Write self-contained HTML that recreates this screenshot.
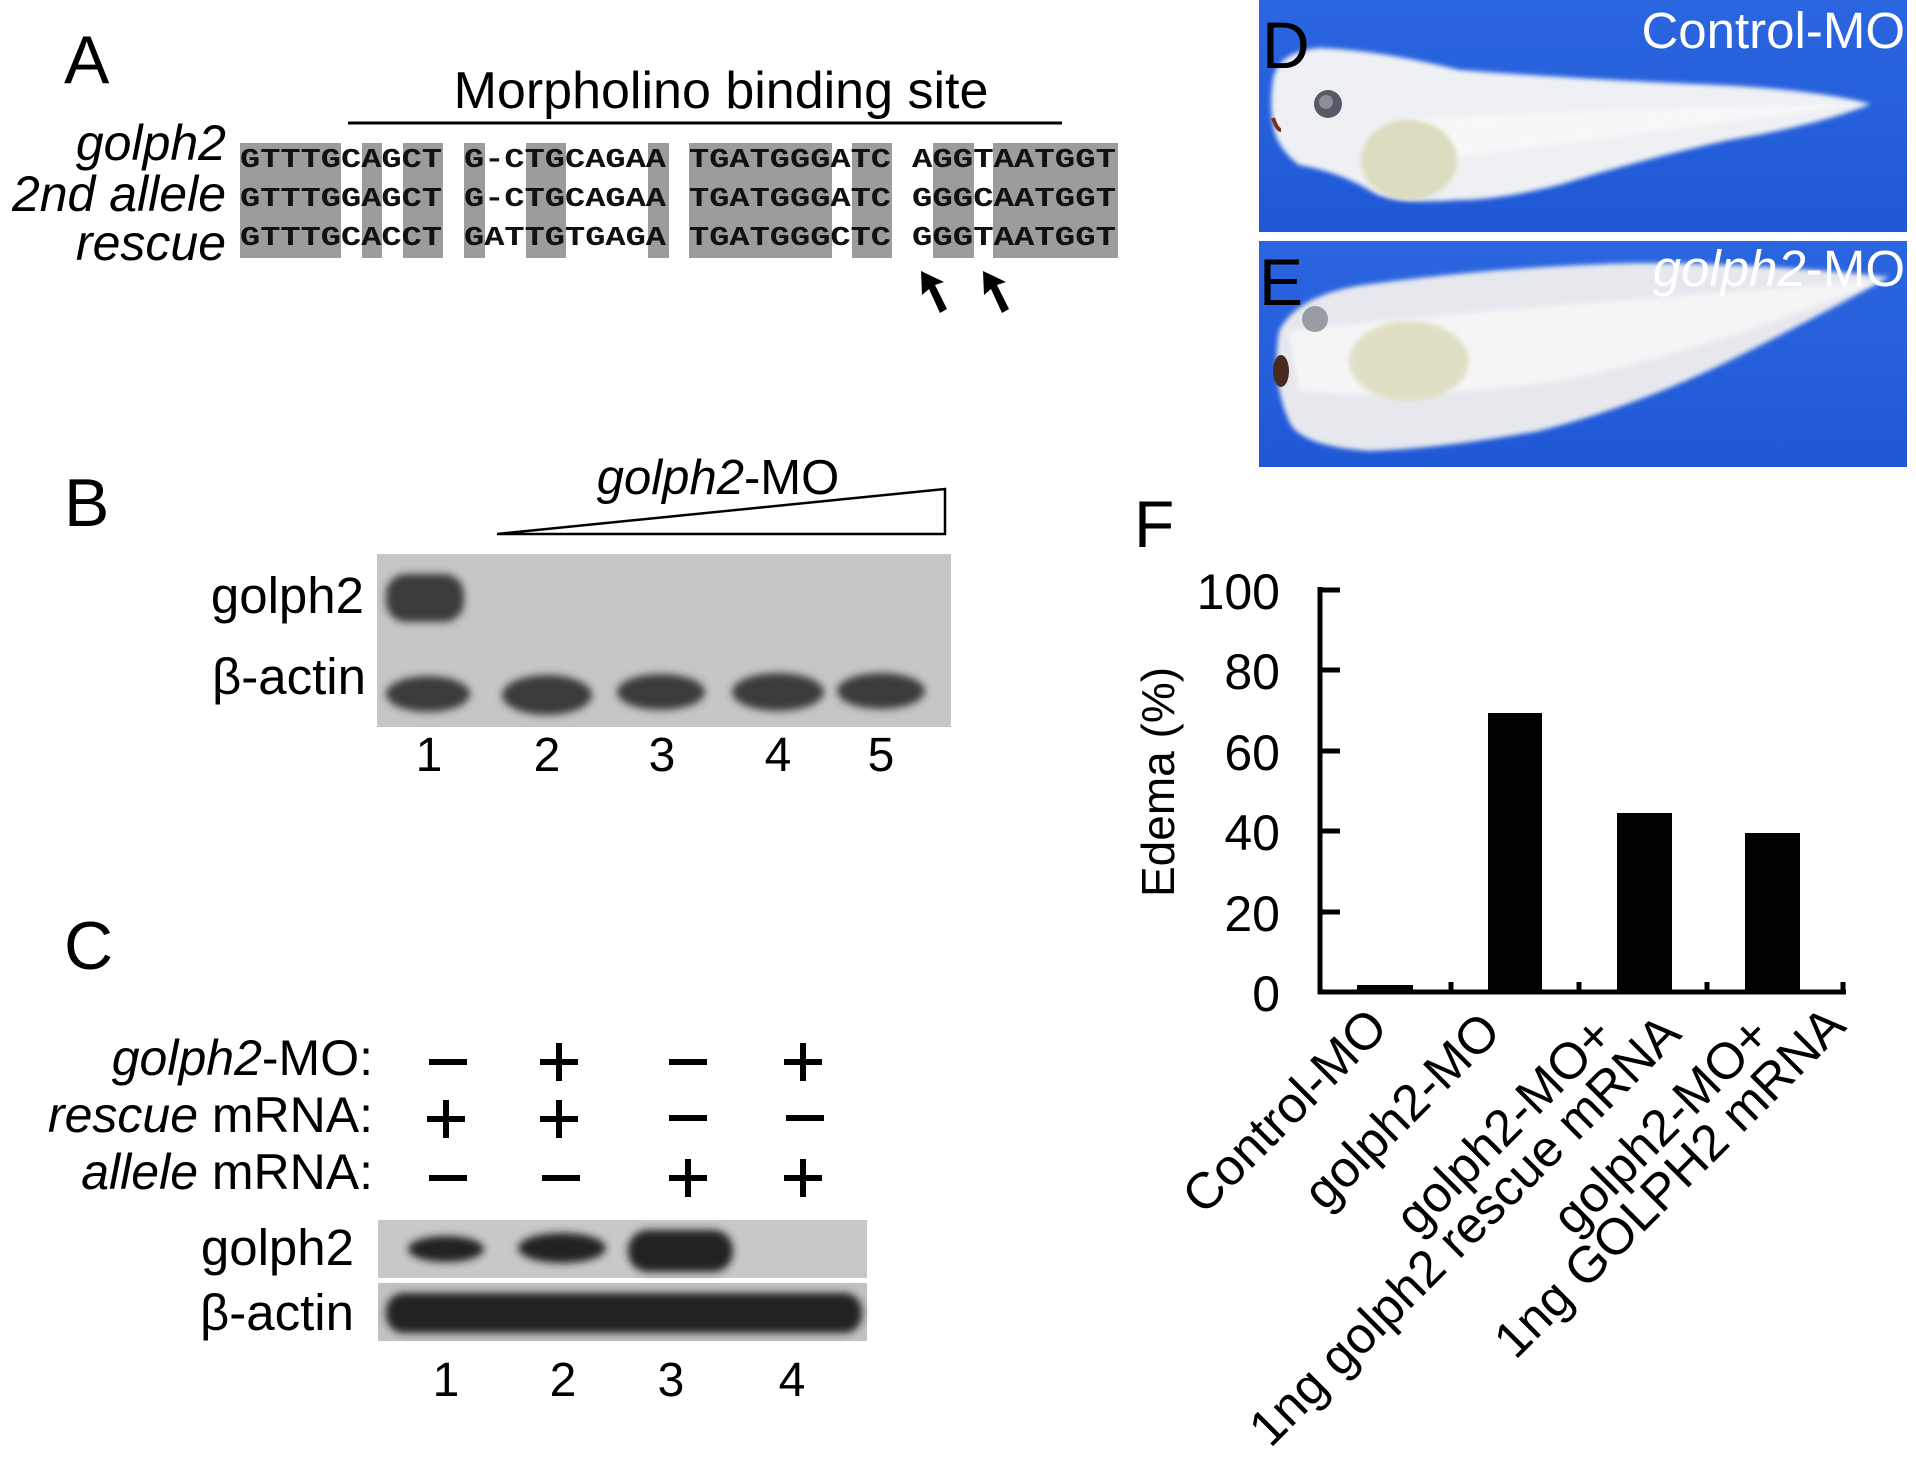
<!DOCTYPE html>
<html><head><meta charset="utf-8"><style>
html,body{margin:0;padding:0;background:#fff;}
svg{display:block;}
text{font-family:"Liberation Sans",sans-serif;}
text.seq{font-family:"Liberation Mono",monospace;font-weight:bold;font-size:27px;fill:#111;}
</style></head><body>
<svg width="1916" height="1468" viewBox="0 0 1916 1468" xmlns="http://www.w3.org/2000/svg">
<defs>
<filter id="b4" x="-30%" y="-60%" width="160%" height="220%"><feGaussianBlur stdDeviation="4"/></filter>
<filter id="b3"><feGaussianBlur stdDeviation="2.5"/></filter>
<linearGradient id="blue" x1="0" y1="0" x2="0" y2="1"><stop offset="0" stop-color="#2b66e0"/><stop offset="1" stop-color="#1f58d6"/></linearGradient>
</defs>
<rect width="1916" height="1468" fill="#fff"/>

<!-- Panel A -->
<text x="64" y="83" font-size="68">A</text>
<text x="721" y="108" font-size="52" text-anchor="middle">Morpholino binding site</text>
<line x1="348" y1="123" x2="1062" y2="123" stroke="#000" stroke-width="3"/>
<g fill="#9c9c9c">
<rect x="240" y="143" width="101" height="115"/>
<rect x="362" y="143" width="20" height="115"/>
<rect x="403" y="143" width="40" height="115"/>
<rect x="464" y="143" width="21" height="115"/>
<rect x="526" y="143" width="40" height="115"/>
<rect x="648" y="143" width="21" height="115"/>
<rect x="689" y="143" width="143" height="115"/>
<rect x="852" y="143" width="40" height="115"/>
<rect x="933" y="143" width="41" height="115"/>
<rect x="993" y="143" width="125" height="115"/>
</g>
<g font-size="50" font-style="italic" text-anchor="end">
<text x="226" y="160">golph2</text>
<text x="226" y="211">2nd allele</text>
<text x="226" y="260">rescue</text>
</g>
<text class="seq" x="240" y="167" textLength="202" lengthAdjust="spacingAndGlyphs">GTTTGCAGCT</text>
<text class="seq" x="464" y="167" textLength="202" lengthAdjust="spacingAndGlyphs">G-CTGCAGAA</text>
<text class="seq" x="689" y="167" textLength="202" lengthAdjust="spacingAndGlyphs">TGATGGGATC</text>
<text class="seq" x="912" y="167" textLength="204" lengthAdjust="spacingAndGlyphs">AGGTAATGGT</text>
<text class="seq" x="240" y="206" textLength="202" lengthAdjust="spacingAndGlyphs">GTTTGGAGCT</text>
<text class="seq" x="464" y="206" textLength="202" lengthAdjust="spacingAndGlyphs">G-CTGCAGAA</text>
<text class="seq" x="689" y="206" textLength="202" lengthAdjust="spacingAndGlyphs">TGATGGGATC</text>
<text class="seq" x="912" y="206" textLength="204" lengthAdjust="spacingAndGlyphs">GGGCAATGGT</text>
<text class="seq" x="240" y="245" textLength="202" lengthAdjust="spacingAndGlyphs">GTTTGCACCT</text>
<text class="seq" x="464" y="245" textLength="202" lengthAdjust="spacingAndGlyphs">GATTGTGAGA</text>
<text class="seq" x="689" y="245" textLength="202" lengthAdjust="spacingAndGlyphs">TGATGGGCTC</text>
<text class="seq" x="912" y="245" textLength="204" lengthAdjust="spacingAndGlyphs">GGGTAATGGT</text>
<g fill="#000">
<path d="M921 271 L944 282 L935 285 L947 309 L940 313 L929 289 L922 295 Z"/>
<path d="M983 271 L1006 282 L997 285 L1009 309 L1002 313 L991 289 L984 295 Z"/>
</g>

<!-- Panel B -->
<text x="64" y="526" font-size="68">B</text>
<text x="718" y="494" font-size="49" text-anchor="middle"><tspan font-style="italic">golph2</tspan>-MO</text>
<path d="M497 534 L945 489 L945 534 Z" fill="none" stroke="#000" stroke-width="2.5"/>
<rect x="377" y="554" width="574" height="173" fill="#c6c6c6"/>
<g fill="#3a3a3a" filter="url(#b4)">
<rect x="386" y="574" width="78" height="48" rx="20"/>
<ellipse cx="428" cy="694" rx="42" ry="18"/>
<ellipse cx="547" cy="695" rx="45" ry="20"/>
<ellipse cx="661" cy="692" rx="44" ry="18"/>
<ellipse cx="778" cy="692" rx="46" ry="19"/>
<ellipse cx="881" cy="691" rx="44" ry="18"/>
</g>
<g font-size="51" text-anchor="end">
<text x="364" y="613">golph2</text>
<text x="366" y="694">β-actin</text>
</g>
<g font-size="48" text-anchor="middle">
<text x="429" y="771">1</text><text x="547" y="771">2</text><text x="662" y="771">3</text><text x="778" y="771">4</text><text x="881" y="771">5</text>
</g>

<!-- Panel C -->
<text x="64" y="969" font-size="68">C</text>
<g font-size="50" text-anchor="end">
<text x="373" y="1075"><tspan font-style="italic">golph2</tspan>-MO:</text>
<text x="373" y="1132"><tspan font-style="italic">rescue</tspan> mRNA:</text>
<text x="373" y="1189"><tspan font-style="italic">allele</tspan> mRNA:</text>
</g>
<g stroke="#000" stroke-width="6">
<line x1="429" y1="1062" x2="467" y2="1062"/>
<line x1="540" y1="1062" x2="578" y2="1062"/><line x1="559" y1="1043" x2="559" y2="1081"/>
<line x1="669" y1="1062" x2="707" y2="1062"/>
<line x1="784" y1="1062" x2="822" y2="1062"/><line x1="803" y1="1043" x2="803" y2="1081"/>
<line x1="427" y1="1119" x2="465" y2="1119"/><line x1="446" y1="1100" x2="446" y2="1138"/>
<line x1="540" y1="1119" x2="578" y2="1119"/><line x1="559" y1="1100" x2="559" y2="1138"/>
<line x1="669" y1="1118" x2="707" y2="1118"/>
<line x1="786" y1="1118" x2="824" y2="1118"/>
<line x1="429" y1="1178" x2="467" y2="1178"/>
<line x1="542" y1="1178" x2="580" y2="1178"/>
<line x1="669" y1="1178" x2="707" y2="1178"/><line x1="688" y1="1159" x2="688" y2="1197"/>
<line x1="784" y1="1178" x2="822" y2="1178"/><line x1="803" y1="1159" x2="803" y2="1197"/>
</g>
<rect x="378" y="1220" width="489" height="58" fill="#c8c8c8"/>
<rect x="378" y="1283" width="489" height="58" fill="#c2c2c2"/>
<g fill="#222" filter="url(#b4)">
<ellipse cx="446" cy="1249" rx="38" ry="13"/>
<ellipse cx="562" cy="1248" rx="44" ry="15"/>
<rect x="628" y="1230" width="105" height="42" rx="20"/>
<rect x="386" y="1293" width="476" height="40" rx="18"/>
</g>
<g font-size="51" text-anchor="end">
<text x="354" y="1265">golph2</text>
<text x="354" y="1330">β-actin</text>
</g>
<g font-size="48" text-anchor="middle">
<text x="446" y="1396">1</text><text x="563" y="1396">2</text><text x="671" y="1396">3</text><text x="792" y="1396">4</text>
</g>

<!-- Panel D -->
<rect x="1259" y="0" width="648" height="232" fill="url(#blue)"/>
<g transform="translate(1259,0)">
<path d="M14 80 Q18 52 60 48 Q120 50 200 70 Q330 80 460 85 Q560 90 612 104 Q560 125 470 140 Q380 160 300 185 Q240 200 200 200 Q130 205 110 190 Q80 172 40 165 Q20 150 15 130 Q10 105 14 80 Z" fill="#eef0f4" filter="url(#b3)"/>
<path d="M150 120 Q330 110 600 104 Q330 140 170 160 Z" fill="#fbfbfb" opacity="0.8" filter="url(#b3)"/>
<ellipse cx="150" cy="160" rx="48" ry="40" fill="#dcdcc0" filter="url(#b3)"/>
<circle cx="69" cy="104" r="14" fill="#555a66"/>
<circle cx="67" cy="102" r="7" fill="#8a8f9a"/>
<path d="M14 118 Q18 130 22 130" stroke="#7a3020" stroke-width="4" fill="none"/>
</g>
<text x="1262" y="68" font-size="66">D</text>
<text x="1905" y="48" font-size="51" fill="#fff" text-anchor="end">Control-MO</text>

<!-- Panel E -->
<rect x="1259" y="241" width="648" height="226" fill="url(#blue)"/>
<g transform="translate(1259,241)">
<path d="M20 90 Q40 50 120 42 Q250 25 380 22 Q500 22 630 36 Q560 75 480 115 Q380 165 280 190 Q180 208 110 210 Q40 205 30 180 Q12 140 20 90 Z" fill="#e6e8ee" filter="url(#b3)"/>
<path d="M30 90 Q200 70 620 40 Q450 110 300 140 Q150 160 40 150 Z" fill="#f8f8f8" opacity="0.85" filter="url(#b3)"/>
<ellipse cx="150" cy="120" rx="60" ry="40" fill="#e0dfc6" filter="url(#b3)"/>
<circle cx="56" cy="78" r="13" fill="#9a9ca4"/>
<ellipse cx="22" cy="130" rx="8" ry="16" fill="#4a2a20"/>
</g>
<text x="1259" y="305" font-size="66">E</text>
<text x="1905" y="286" font-size="51" fill="#fff" text-anchor="end"><tspan font-style="italic">golph2</tspan>-MO</text>
<rect x="1259" y="232" width="648" height="9" fill="#fff"/>

<!-- Panel F -->
<text x="1134" y="547" font-size="66">F</text>
<g stroke="#000" stroke-width="5" fill="none">
<line x1="1320" y1="587" x2="1320" y2="994"/>
<line x1="1318" y1="992" x2="1846" y2="992"/>
<line x1="1318" y1="590" x2="1340" y2="590"/>
<line x1="1318" y1="670" x2="1340" y2="670"/>
<line x1="1318" y1="751" x2="1340" y2="751"/>
<line x1="1318" y1="831" x2="1340" y2="831"/>
<line x1="1318" y1="912" x2="1340" y2="912"/>
<line x1="1451" y1="992" x2="1451" y2="982"/>
<line x1="1579" y1="992" x2="1579" y2="982"/>
<line x1="1707" y1="992" x2="1707" y2="982"/>
<line x1="1843" y1="992" x2="1843" y2="982"/>
</g>
<g fill="#000">
<rect x="1357" y="985" width="56" height="7"/>
<rect x="1488" y="713" width="54" height="279"/>
<rect x="1617" y="813" width="55" height="179"/>
<rect x="1745" y="833" width="55" height="159"/>
</g>
<g font-size="50" text-anchor="end">
<text x="1280" y="609">100</text>
<text x="1280" y="689">80</text>
<text x="1280" y="770">60</text>
<text x="1280" y="850">40</text>
<text x="1280" y="931">20</text>
<text x="1280" y="1011">0</text>
</g>
<text transform="translate(1158,782) rotate(-90)" font-size="46" text-anchor="middle" dy="16">Edema (%)</text>
<g font-size="51" text-anchor="end">
<text transform="translate(1390,1030) rotate(-45)">Control-MO</text>
<text transform="translate(1503,1034) rotate(-45)">golph2-MO</text>
<g transform="translate(1616,1038) rotate(-45)">
<text x="0" y="0">golph2-MO+</text>
<text x="49" y="46">1ng golph2  rescue mRNA</text>
</g>
<g transform="translate(1773,1038) rotate(-45)">
<text x="0" y="0">golph2-MO+</text>
<text x="60" y="46">1ng GOLPH2 mRNA</text>
</g>
</g>
</svg>
</body></html>
